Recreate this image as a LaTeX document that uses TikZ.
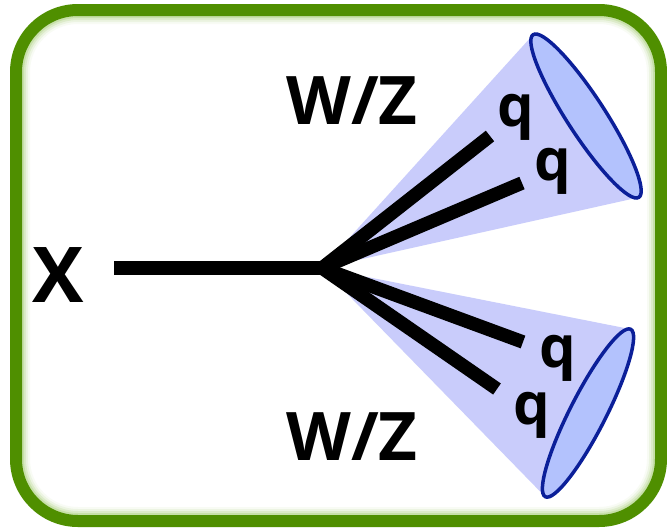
\documentclass[tikz,border=0pt]{standalone}
\usepackage{fontspec}
\usetikzlibrary{calc}
\newfontfamily\lblfont{Open Sans}
\definecolor{framegreen}{HTML}{4F8F00}
\definecolor{glowgreen}{HTML}{8CC04A}
\definecolor{conefill}{HTML}{C9CCFB}
\definecolor{capfill}{HTML}{B3C2FD}
\definecolor{capline}{HTML}{0B1F99}
\tikzset{
  frame/.style={draw=framegreen, line width=12pt, rounded corners=62pt},
  jet/.style={draw=black, line width=13.5pt, line cap=butt},
  cone/.style={fill=conefill, draw=none},
  capring/.style={fill=capfill, draw=capline, line width=3.5pt},
  big/.style={font=\lblfont\bfseries\fontsize{67}{67}\selectfont, inner sep=0pt},
  bigx/.style={font=\lblfont\bfseries\fontsize{77}{77}\selectfont, inner sep=0pt},
  quark/.style={font=\lblfont\bfseries\fontsize{58}{58}\selectfont, inner sep=0pt}
}
\begin{document}
\begin{tikzpicture}[x=1pt,y=-1pt]
\useasboundingbox (0,0) rectangle (667,528);
\fill[white] (0,0) rectangle (667,528);

% soft inner glow along the frame
\begin{scope}
  \clip[rounded corners=62pt] (16,10) rectangle (661,521);
  \foreach \w/\o in {28/0.06, 24/0.1, 20/0.16, 16/0.25}
    \draw[glowgreen, opacity=\o, line width=\w pt, rounded corners=62pt] (16,10) rectangle (661,521);
\end{scope}
\draw[frame] (16,10) rectangle (661,521);

% vertex and jet end points
\coordinate (v) at (322,268);
\coordinate (xs) at (114,268);
\coordinate (ua) at (490,136);
\coordinate (ub) at (522,183);
\coordinate (la) at (523,342);
\coordinate (lb) at (497,389);

% upper cone
\coordinate (uc) at (586,116);
\coordinate (ut) at ($(uc)+(-52.8,-81.4)$);
\coordinate (ubm) at ($(uc)+(52.8,81.4)$);
\fill[cone] (v) -- (ut) -- (ubm) -- cycle;

% lower cone
\coordinate (lc) at (588,413);
\coordinate (lt) at ($(lc)+(42.7,-83.8)$);
\coordinate (lbm) at ($(lc)+(-42.7,83.8)$);
\fill[cone] (v) -- (lt) -- (lbm) -- cycle;

% particle lines
\draw[jet] (xs) -- (v);
\draw[jet] (v) -- (ua);
\draw[jet] (v) -- (ub);
\draw[jet] (v) -- (la);
\draw[jet] (v) -- (lb);

% cone openings
\draw[capring, rotate around={-57:(uc)}] (uc) ellipse [x radius=97, y radius=19];
\draw[capring, rotate around={63:(lc)}] (lc) ellipse [x radius=94, y radius=18];

% labels
\node[bigx] (X) at (58.5,275.5) {X};
\node[big] (wzu) at (352,101) {W/Z};
\node[big] (wzl) at (352,437) {W/Z};
\node[quark] (q1) at (516,117) {q};
\node[quark] (q2) at (553,171) {q};
\node[quark] (q3) at (558,358) {q};
\node[quark] (q4) at (532,415) {q};
\end{tikzpicture}
\end{document}
